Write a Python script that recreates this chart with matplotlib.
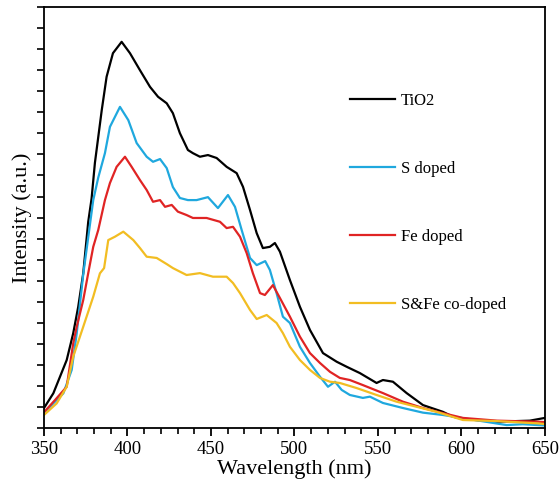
import numpy as np
import matplotlib.pyplot as plt
from matplotlib.ticker import MultipleLocator, NullFormatter

plt.rcParams['font.family'] = ['Liberation Serif', 'DejaVu Serif']

# TiO2 (black)
tio2_wl = [350.0, 355.6, 359.6, 363.6, 367.5, 370.5, 373.5, 376.5, 378.5, 380.5, 384.6, 387.5,
           391.3, 396.5, 401.5,
           407.5, 413.5, 418.3, 423.5, 427.2, 431.4, 436.2, 439.2, 443.4, 448.2, 453.4, 459.4,
           465.4, 469.2, 473.4, 477.4, 481.1, 485.3, 488.3, 491.3, 497.3, 503.3, 509.3, 517.1,
           525.3, 531.3, 539.2, 549.2, 553.0, 559.0, 567.2, 577.0, 588.9, 594.9, 600.9, 621.3,
           641.0, 650.0]
tio2_int = [0.95, 1.65, 2.44, 3.23, 4.50, 5.76, 7.35, 9.8, 10.9, 12.6, 15.11, 16.69,
            17.81, 18.35, 17.81,
            17.0, 16.21, 15.74, 15.43, 14.96, 14.01, 13.21, 13.06, 12.89, 12.97, 12.83, 12.41,
            12.11, 11.46, 10.36, 9.26, 8.55, 8.61, 8.79, 8.38, 7.03, 5.76, 4.66, 3.56,
            3.15, 2.91, 2.61, 2.14, 2.28, 2.20, 1.66, 1.09, 0.77, 0.54, 0.43, 0.30,
            0.35, 0.48]

# S doped (blue)
s_wl = [350.0, 353.6, 361.6, 366.6, 369.6, 373.5, 379.5, 382.5, 386.5, 389.5, 395.5,
        400.5, 405.5,
        411.5, 415.3, 419.5, 423.5, 427.2, 431.4, 436.2, 441.4, 448.2, 454.2, 460.2, 464.4,
        468.4, 473.4, 477.4, 482.5, 485.3, 489.3, 493.1, 497.3, 503.3, 509.3, 515.3, 520.1,
        524.3, 528.3, 533.2, 541.0, 545.2, 553.0, 565.0, 577.0, 588.9, 627.1, 636.8, 650.0]
s_int = [0.71, 1.01, 1.65, 2.76, 4.5, 7.3, 10.83, 11.9, 13.06, 14.31, 15.26,
         14.63, 13.54,
         12.89, 12.65, 12.78, 12.35, 11.45, 10.93, 10.83, 10.83, 10.97, 10.45, 11.07, 10.51,
         9.41, 8.08, 7.74, 7.93, 7.51, 6.41, 5.29, 4.99, 3.86, 3.09, 2.44, 1.96,
         2.20, 1.81, 1.57, 1.43, 1.49, 1.19, 0.95, 0.73, 0.62, 0.14, 0.18, 0.12]

# Fe doped (red)
fe_wl = [350.0, 356.6, 363.6, 367.5, 369.6, 373.5, 376.5, 379.5, 382.5, 386.5, 389.5, 393.5,
         398.5, 402.5,
         407.5, 411.5, 415.3, 419.5, 422.5, 426.5, 430.2, 435.4, 439.2, 447.4, 455.4, 459.4,
         463.2, 467.4, 471.4, 475.1, 479.4, 482.3, 487.1, 491.3, 497.3, 503.3, 509.3, 515.3,
         521.3, 527.2, 533.2, 541.0, 553.0, 565.0, 577.0, 588.9, 600.9, 621.3, 645.8, 650.0]
fe_int = [0.75, 1.33, 1.96, 4.02, 4.81, 6.08, 7.36, 8.61, 9.41, 10.83, 11.64, 12.41,
          12.89, 12.41,
          11.78, 11.31, 10.75, 10.83, 10.51, 10.60, 10.28, 10.12, 9.98, 9.98, 9.80, 9.50,
          9.56, 9.09, 8.31, 7.36, 6.41, 6.32, 6.79, 6.18, 5.29, 4.34, 3.56, 3.09,
          2.67, 2.38, 2.28, 2.04, 1.66, 1.25, 0.95, 0.71, 0.48, 0.35, 0.30, 0.28]

# S&Fe co-doped (yellow)
sfe_wl = [350.0, 357.6, 363.6, 367.5, 373.5, 379.5, 383.5, 386.0, 388.5, 392.5, 397.5,
          403.5, 407.5, 411.5, 417.5, 423.5, 427.2, 431.4, 435.4, 443.4, 451.2, 459.4, 463.2,
          467.4, 473.4, 477.4, 483.4, 489.3, 493.1, 497.3, 503.3, 509.3, 515.3, 521.3, 527.2,
          537.2, 549.2, 561.2, 573.1, 585.1, 600.9, 621.3, 645.8, 650.0]
sfe_int = [0.62, 1.17, 1.96, 3.39, 4.81, 6.24, 7.35, 7.6, 8.93, 9.09, 9.33,
           8.93, 8.55, 8.14, 8.08, 7.79, 7.60, 7.43, 7.27, 7.36, 7.19, 7.19, 6.89,
           6.41, 5.61, 5.18, 5.37, 4.99, 4.51, 3.86, 3.23, 2.76, 2.38, 2.20, 2.14,
           1.90, 1.57, 1.25, 1.01, 0.77, 0.38, 0.33, 0.22, 0.19]

fig = plt.figure(figsize=(5.59, 4.90), dpi=100)
ax = fig.add_axes([0.0787, 0.1265, 0.896, 0.859])

lw = 1.6
ax.plot(tio2_wl, tio2_int, color='black', lw=lw, label='TiO2')
ax.plot(s_wl, s_int, color='#1fa8de', lw=lw, label='S doped')
ax.plot(fe_wl, fe_int, color='#e02424', lw=lw, label='Fe doped')
ax.plot(sfe_wl, sfe_int, color='#f2bd22', lw=lw, label='S&Fe co-doped')

ax.set_xlim(350, 650)
ax.set_ylim(0, 20)
ax.xaxis.set_major_locator(MultipleLocator(50))
ax.xaxis.set_minor_locator(MultipleLocator(10))
ax.yaxis.set_major_locator(MultipleLocator(1))
ax.yaxis.set_major_formatter(NullFormatter())
ax.tick_params(axis='x', which='major', direction='out', length=6, width=1.3, labelsize=13.5)
ax.tick_params(axis='x', which='minor', direction='out', length=4, width=1.2)
ax.tick_params(axis='y', which='major', direction='out', length=5, width=1.2)
for s in ax.spines.values():
    s.set_linewidth(1.3)

ax.set_xlabel('Wavelength (nm)', fontsize=16, labelpad=1)
ax.set_ylabel('Intensity (a.u.)', fontsize=16, labelpad=0)

ax.legend(loc='upper left', bbox_to_anchor=(0.594, 0.815), frameon=False, fontsize=12,
          handlelength=2.7, handletextpad=0.35, labelspacing=3.12, borderpad=0)

fig.savefig('out.png', dpi=100)
